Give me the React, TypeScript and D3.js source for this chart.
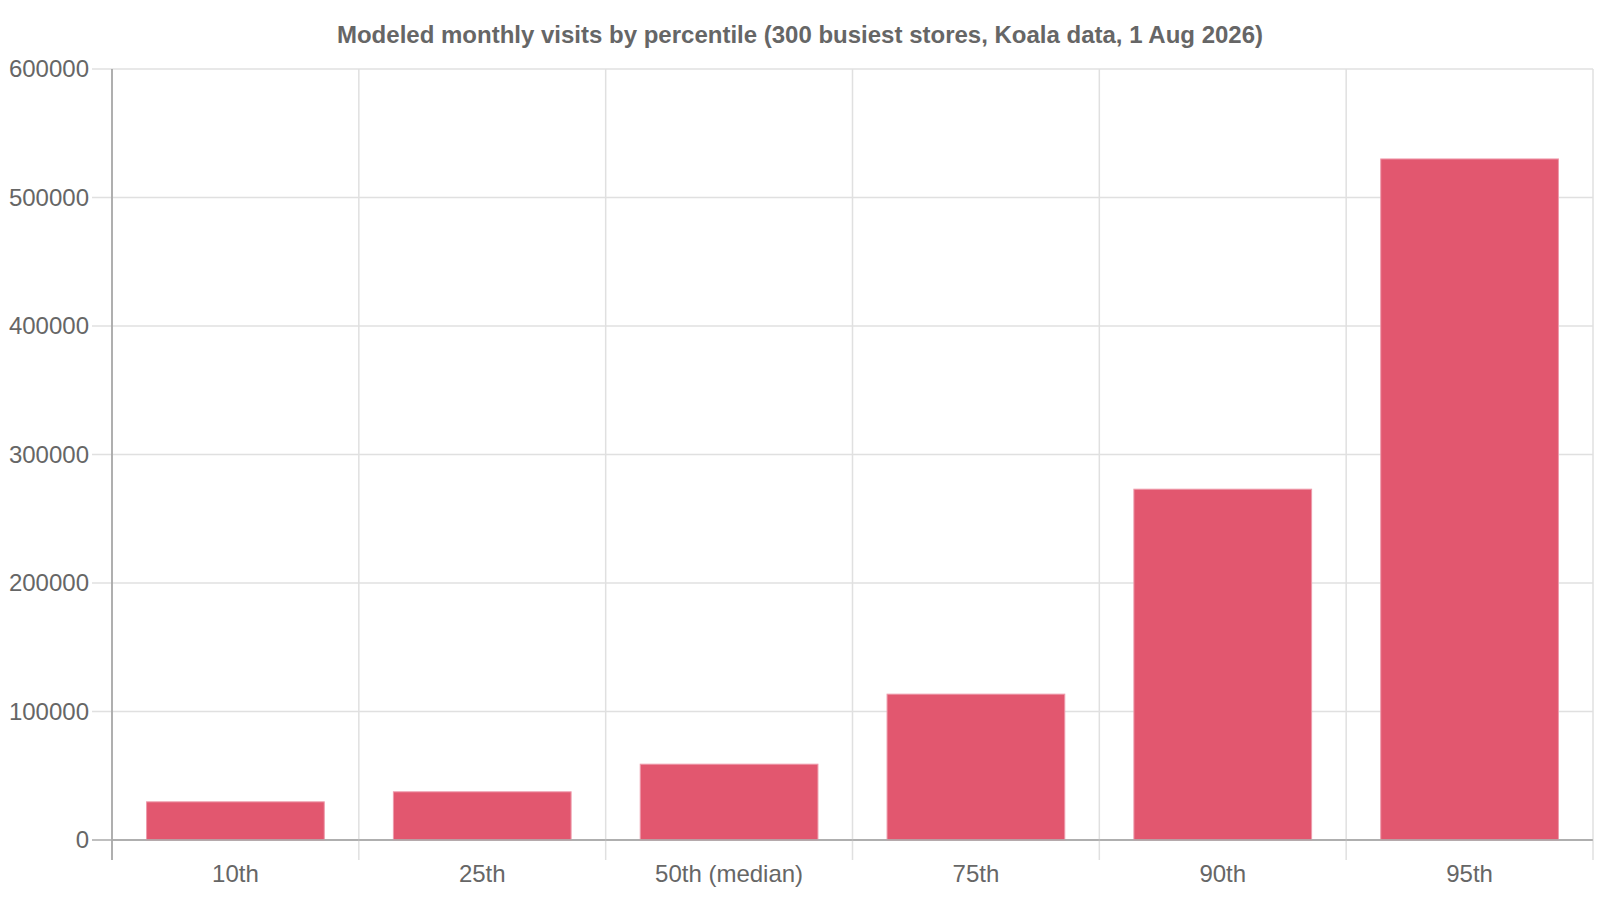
import * as d3 from 'd3';
import { useEffect, useRef } from 'react';

const W = 1600;
const H = 900;

const title = 'Modeled monthly visits by percentile (300 busiest stores, Koala data, 1 Aug 2026)';
const categories = ['10th', '25th', '50th (median)', '75th', '90th', '95th'];
const visits = [29700, 37500, 59000, 113500, 273000, 530000];
const yTicks = [0, 100000, 200000, 300000, 400000, 500000, 600000];

const BarChart = () => {
  const ref = useRef<SVGSVGElement>(null);

  useEffect(() => {
    if (!ref.current) return;
    const svg = d3.select(ref.current);
    svg.selectAll('*').remove();

    const left = 112, right = 1593, top = 69, bottom = 840;
    const font = '"Liberation Sans", Arial, Helvetica, sans-serif';

    const x = d3.scaleBand<string>().domain(categories).range([left, right]);
    const y = d3.scaleLinear().domain([0, 600000]).range([bottom, top]);

    // title
    svg.append('text')
      .text(title)
      .attr('x', W / 2)
      .attr('y', 43)
      .attr('text-anchor', 'middle')
      .attr('font-family', font)
      .attr('font-weight', 'bold')
      .attr('font-size', 24)
      .attr('fill', '#666');

    // horizontal grid + y ticks
    yTicks.forEach(t => {
      svg.append('line')
        .attr('x1', left - 20).attr('x2', right)
        .attr('y1', y(t)).attr('y2', y(t))
        .attr('stroke', t === 0 ? '#aaa' : '#e0e0e0')
        .attr('stroke-width', 1.5);
      svg.append('text')
        .text(t)
        .attr('x', left - 23)
        .attr('y', y(t) + 8)
        .attr('text-anchor', 'end')
        .attr('font-family', font)
        .attr('font-size', 24)
        .attr('fill', '#666');
    });

    // vertical grid lines at category edges
    const edges = categories.map(c => x(c)!).concat([right]);
    edges.forEach((ex, i) => {
      svg.append('line')
        .attr('x1', ex).attr('x2', ex)
        .attr('y1', top).attr('y2', bottom + 20)
        .attr('stroke', i === 0 ? '#aaa' : '#e0e0e0')
        .attr('stroke-width', 1.5);
    });
    // redraw axis line on top
    svg.append('line')
      .attr('x1', left).attr('x2', left)
      .attr('y1', top).attr('y2', bottom + 20)
      .attr('stroke', '#aaa').attr('stroke-width', 1.5);

    // bars
    const bw = x.bandwidth() * 0.72;
    categories.forEach((c, i) => {
      const cx = x(c)! + x.bandwidth() / 2;
      svg.append('rect')
        .attr('x', cx - bw / 2)
        .attr('y', y(visits[i]))
        .attr('width', bw)
        .attr('height', y(0) - y(visits[i]))
        .attr('fill', '#e2576f')
        .attr('stroke', '#ee9aab')
        .attr('stroke-width', 1);
      svg.append('text')
        .text(c)
        .attr('x', cx)
        .attr('y', 882)
        .attr('text-anchor', 'middle')
        .attr('font-family', font)
        .attr('font-size', 24)
        .attr('fill', '#666');
    });

    svg.append('line')
      .attr('x1', left).attr('x2', right)
      .attr('y1', bottom).attr('y2', bottom)
      .attr('stroke', '#aaa').attr('stroke-width', 1.5);
  }, []);

  return (
    <svg ref={ref} width={W} height={H}
      style={{ position: 'absolute', left: 0, top: 0, background: '#fff' }} />
  );
};

export default function App() {
  return <BarChart />;
}
